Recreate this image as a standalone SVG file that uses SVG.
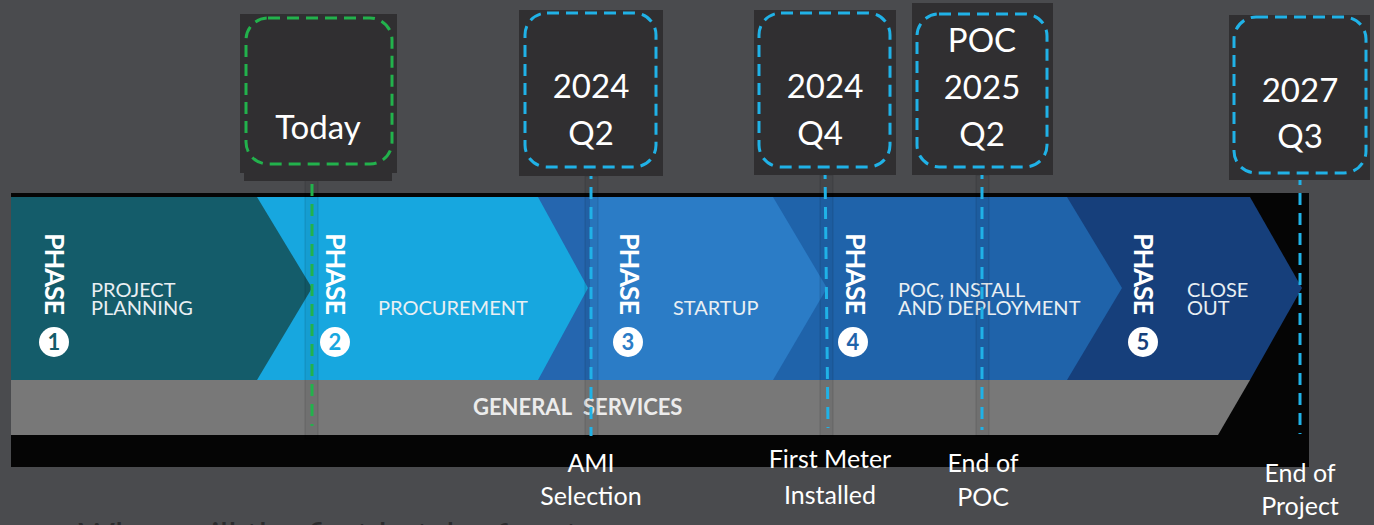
<svg xmlns="http://www.w3.org/2000/svg" width="1374" height="525" viewBox="0 0 1374 525">
<style>
.bx{fill:#302f31}
.dg{fill:none;stroke:#22b24c;stroke-width:3;stroke-dasharray:12 7}
.db{fill:none;stroke:#20b2e7;stroke-width:3;stroke-dasharray:12 7}
.lbl{font-family:Lato,"Open Sans",sans-serif;font-size:33px;fill:#ffffff;text-anchor:middle}
.bot{font-family:Lato,"Open Sans",sans-serif;font-size:25px;fill:#ffffff;text-anchor:middle}
.ph{font-family:Lato,"Open Sans",sans-serif;font-weight:bold;font-size:27px;fill:#ffffff}
.pn{font-family:Lato,"Open Sans",sans-serif;font-size:20px;fill:#e9eff3}
.num{font-family:Lato,"Open Sans",sans-serif;font-weight:bold;font-size:22px;text-anchor:middle}
.sh{fill:#000;fill-opacity:0.06;stroke:#000;stroke-opacity:0.12;stroke-width:1}
.cg{stroke:#22b24c;stroke-width:3;stroke-dasharray:12 8}
.cb{stroke:#20b2e7;stroke-width:3;stroke-dasharray:12 8}
</style>
<rect x="0" y="0" width="1374" height="525" fill="#4a4b4e"/>

<g id="banner">
<rect x="11" y="193" width="1298" height="274" fill="#050505"/>
<polygon points="1060,197 1250,197 1302,288 1250,380 1060,380" fill="#163f7b"/>
<polygon points="773,197 1067,197 1122,288 1067,380 773,380" fill="#1f63aa"/>
<polygon points="538,197 773,197 827,288 773,380 538,380" fill="#2b7cc6"/>
<rect x="538" y="197" width="52" height="183" fill="#2566af"/>
<polygon points="257,197 538,197 588,288 538,380 257,380" fill="#17a7df"/>
<polygon points="11,197 257,197 312,288 257,380 11,380" fill="#145c6a"/>
<polygon points="11,380 1250,380 1218,435 11,435" fill="#787878"/>
<text x="473" y="415" style="font-family:Lato,'Open Sans',sans-serif;font-weight:bold;font-size:22px;fill:#ececec">GENERAL</text>
<text x="583" y="415" style="font-family:Lato,'Open Sans',sans-serif;font-weight:bold;font-size:22px;fill:#ececec">SERVICES</text>
</g>

<g id="phase1">
<text class="ph" transform="translate(45,233) rotate(90)" textLength="82">PHASE</text>
<circle cx="54" cy="342" r="15" fill="#fff"/>
<text class="num" x="54" y="350" fill="#145c6a">1</text>
<text class="pn" x="91" y="297">PROJECT<tspan x="91" dy="18">PLANNING</tspan></text>
</g>
<g id="phase2">
<text class="ph" transform="translate(326,233) rotate(90)" textLength="82">PHASE</text>
<circle cx="335" cy="342" r="15" fill="#fff"/>
<text class="num" x="335" y="350" fill="#17a7df">2</text>
<text class="pn" x="378" y="315">PROCUREMENT</text>
</g>
<g id="phase3">
<text class="ph" transform="translate(620,233) rotate(90)" textLength="82">PHASE</text>
<circle cx="628" cy="342" r="15" fill="#fff"/>
<text class="num" x="628" y="350" fill="#2b7cc6">3</text>
<text class="pn" x="673" y="315">STARTUP</text>
</g>
<g id="phase4">
<text class="ph" transform="translate(846,233) rotate(90)" textLength="82">PHASE</text>
<circle cx="853" cy="342" r="15" fill="#fff"/>
<text class="num" x="853" y="350" fill="#1f63aa">4</text>
<text class="pn" x="898" y="297">POC, INSTALL<tspan x="898" dy="18">AND DEPLOYMENT</tspan></text>
</g>
<g id="phase5">
<text class="ph" transform="translate(1134,233) rotate(90)" textLength="82">PHASE</text>
<circle cx="1143" cy="342" r="15" fill="#fff"/>
<text class="num" x="1143" y="350" fill="#163f7b">5</text>
<text class="pn" x="1187" y="297">CLOSE<tspan x="1187" dy="18">OUT</tspan></text>
</g>

<g id="connectors">
<rect class="sh" x="305" y="173" width="13" height="266"/>
<rect class="sh" x="585" y="176" width="13" height="262"/>
<rect class="sh" x="820" y="175" width="13" height="261"/>
<rect class="sh" x="976" y="175" width="13" height="261"/>
<line class="cg" x1="312" y1="164" x2="312" y2="426"/>
<line class="cb" x1="591" y1="167" x2="591" y2="436"/>
<line class="cb" x1="825" y1="167" x2="828" y2="428"/>
<line class="cb" x1="982" y1="167" x2="982" y2="430"/>
<line class="cb" x1="1300" y1="173" x2="1300" y2="434"/>
</g>

<g id="today">
<rect class="bx" x="240" y="14" width="157" height="159"/>
<rect class="bx" x="244" y="14" width="148" height="167"/>
<rect class="dg" x="246" y="18" width="146" height="146" rx="22"/>
<text class="lbl" x="318" y="139">Today</text>
</g>
<g id="q2-2024">
<rect class="bx" x="519" y="10" width="144" height="166"/>
<rect class="db" x="525" y="13" width="131" height="154" rx="22"/>
<text class="lbl" x="591" y="98">2024</text>
<text class="lbl" x="591" y="145">Q2</text>
</g>
<g id="q4-2024">
<rect class="bx" x="754" y="10" width="142" height="165"/>
<rect class="db" x="759" y="13" width="131" height="154" rx="22"/>
<text class="lbl" x="825" y="98">2024</text>
<text class="lbl" x="820" y="145">Q4</text>
</g>
<g id="poc-2025">
<rect class="bx" x="912" y="3" width="141" height="172"/>
<rect class="db" x="917" y="14" width="130" height="153" rx="22"/>
<text class="lbl" x="982" y="52">POC</text>
<text class="lbl" x="982" y="99">2025</text>
<text class="lbl" x="982" y="146">Q2</text>
</g>
<g id="q3-2027">
<rect class="bx" x="1229" y="15" width="141" height="165"/>
<rect class="db" x="1234" y="17" width="132" height="156" rx="22"/>
<text class="lbl" x="1300" y="102">2027</text>
<text class="lbl" x="1300" y="148">Q3</text>
</g>

<g id="labels">
<text class="bot" x="591" y="472">AMI</text>
<text class="bot" x="591" y="505">Selection</text>
<text class="bot" x="830" y="468">First Meter</text>
<text class="bot" x="830" y="504">Installed</text>
<text class="bot" x="983" y="472">End of</text>
<text class="bot" x="983" y="506">POC</text>
<text class="bot" x="1300" y="482">End of</text>
<text class="bot" x="1300" y="515">Project</text>
</g>
<text x="78" y="549" style="font-family:Lato,'Open Sans',sans-serif;font-size:36px;fill:#2b2b2d">When will the first batch of meters</text>
</svg>
